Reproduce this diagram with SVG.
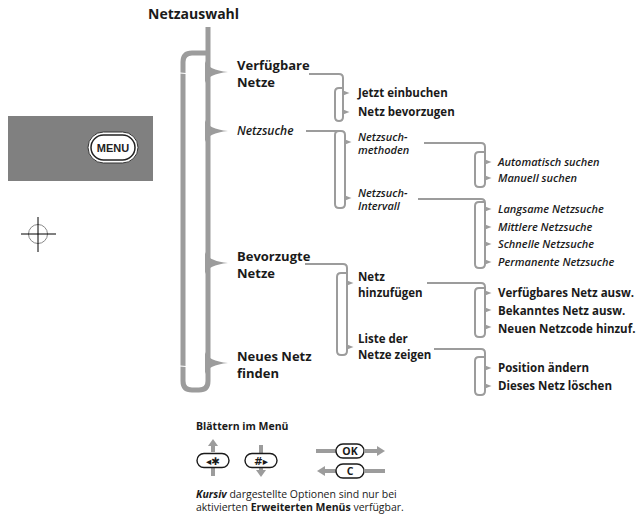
<svg xmlns="http://www.w3.org/2000/svg" width="636" height="520" viewBox="0 0 636 520">
<style>
text{font-family:"Open Sans","Noto Sans","DejaVu Sans",sans-serif;fill:#1a1a1a}
.h{font-size:13px;font-weight:700}
.b{font-size:11.5px;font-weight:700}
.i{font-size:11px;font-style:italic;font-weight:600}
.i2{font-size:12px;font-style:italic;font-weight:600}
.br{fill:none;stroke:#9c9c9c;stroke-width:2}
.tk{fill:#9c9c9c}
.trunk{fill:none;stroke:#9c9c9c;stroke-width:5}
.leg{font-size:10.5px}
.pill{fill:#fff;stroke:#1a1a1a;stroke-width:1.4}
.ga{stroke:#9c9c9c;stroke-width:4;fill:none}
</style>
<defs>
<path id="tick" d="M0,-2.4 L6.5,0 L0,2.4 Z"/>
<path id="tip" d="M205,-11 Q208,-2 228,0 Q208,2 205,11 Z"/>
</defs>

<g id="menu-panel">
<rect x="8" y="116" width="145" height="65" fill="#808080"/>
<rect x="88" y="132" width="50" height="31" rx="15.5" fill="#fff" stroke="#333" stroke-width="1"/>
<rect x="91" y="135" width="44" height="25" rx="12.5" fill="#fff" stroke="#222" stroke-width="1.5"/>
<text x="113" y="152" text-anchor="middle" style="font-family:'Liberation Sans',Arial,sans-serif;font-size:11px;font-weight:700;fill:#222">MENU</text>
</g>

<g id="crosshair">
<circle cx="38" cy="234" r="9.5" fill="none" stroke="#888" stroke-width="1"/>
<line x1="21" y1="234" x2="56" y2="234" stroke="#000" stroke-width="1"/>
<line x1="38" y1="217" x2="38" y2="252" stroke="#000" stroke-width="1"/>
</g>

<g id="connectors">
<path class="trunk" d="M208,27 V381 Q208,390 199,390 H192 Q183,390 183,381 V62 Q183,53 192,53 H208"/>
<line x1="180" y1="73" x2="186" y2="73.5" stroke="#fff" stroke-width="1.2"/>
<line x1="180" y1="366" x2="186" y2="366.5" stroke="#fff" stroke-width="1.2"/>
<g fill="#9c9c9c">
<use href="#tip" y="72"/>
<use href="#tip" y="131"/>
<use href="#tip" y="263"/>
<use href="#tip" y="363"/>
</g>

<path class="br" d="M309,74 H339 Q343,74 343,78 V117 Q343,121 339,121 H339 Q335,121 335,117 V92 Q335,88 339,88 H343"/>
<use href="#tick" class="tk" x="343" y="93"/>
<use href="#tick" class="tk" x="343" y="112"/>

<path class="br" d="M306,131 H341 Q345,131 345,135 V204 Q345,208 341,208 H339 Q335,208 335,204 V135 Q335,131 339,131"/>
<use href="#tick" class="tk" x="345" y="142"/>
<use href="#tick" class="tk" x="345" y="198"/>

<path class="br" d="M424,143 H481 Q485,143 485,147 V183 Q485,187 481,187 H479 Q475,187 475,183 V156 Q475,152 479,152 H485"/>
<use href="#tick" class="tk" x="485" y="162"/>
<use href="#tick" class="tk" x="485" y="178"/>

<path class="br" d="M418,199 H481 Q485,199 485,203 V264 Q485,268 481,268 H479 Q475,268 475,264 V206 Q475,202 479,202 H485"/>
<use href="#tick" class="tk" x="485" y="209"/>
<use href="#tick" class="tk" x="485" y="227"/>
<use href="#tick" class="tk" x="485" y="244"/>
<use href="#tick" class="tk" x="485" y="262"/>

<path class="br" d="M305,264 H343 Q347,264 347,268 V351 Q347,355 343,355 H341 Q337,355 337,351 V277 Q337,273 341,273 H347"/>
<use href="#tick" class="tk" x="347" y="283"/>
<use href="#tick" class="tk" x="347" y="347"/>

<path class="br" d="M427,283 H481 Q485,283 485,287 V333 Q485,337 481,337 H479 Q475,337 475,333 V292 Q475,288 479,288 H485"/>
<use href="#tick" class="tk" x="485" y="293"/>
<use href="#tick" class="tk" x="485" y="310"/>
<use href="#tick" class="tk" x="485" y="327"/>

<path class="br" d="M434,349 H481 Q485,349 485,353 V391 Q485,395 481,395 H479 Q475,395 475,391 V361 Q475,357 479,357 H485"/>
<use href="#tick" class="tk" x="485" y="368"/>
<use href="#tick" class="tk" x="485" y="386"/>
</g>

<g id="n-root"><text x="148" y="19" style="font-size:14px;font-weight:700">Netzauswahl</text></g>
<g id="n-verfuegbare"><text class="h" x="237" y="70">Verfügbare<tspan x="237" dy="17">Netze</tspan></text></g>
<g id="n-einbuchen"><text class="b" x="358" y="97">Jetzt einbuchen</text></g>
<g id="n-bevorzugen"><text class="b" x="358" y="116">Netz bevorzugen</text></g>
<g id="n-netzsuche"><text class="i2" x="237" y="135">Netzsuche</text></g>
<g id="n-methoden"><text class="i" x="358" y="141">Netzsuch-<tspan x="358" dy="12.5">methoden</tspan></text></g>
<g id="n-auto"><text class="i" x="498" y="166">Automatisch suchen</text></g>
<g id="n-manuell"><text class="i" x="498" y="182">Manuell suchen</text></g>
<g id="n-intervall"><text class="i" x="358" y="197">Netzsuch-<tspan x="358" dy="12.5">Intervall</tspan></text></g>
<g id="n-langsam"><text class="i" x="498" y="213">Langsame Netzsuche</text></g>
<g id="n-mittel"><text class="i" x="498" y="231">Mittlere Netzsuche</text></g>
<g id="n-schnell"><text class="i" x="498" y="248">Schnelle Netzsuche</text></g>
<g id="n-perm"><text class="i" x="498" y="266">Permanente Netzsuche</text></g>
<g id="n-bevorzugte"><text class="h" x="237" y="261">Bevorzugte<tspan x="237" dy="17">Netze</tspan></text></g>
<g id="n-hinzu"><text class="b" x="358" y="281">Netz<tspan x="358" dy="16">hinzufügen</tspan></text></g>
<g id="n-verfnetz"><text class="b" x="498" y="297">Verfügbares Netz ausw.</text></g>
<g id="n-bekannt"><text class="b" x="498" y="315">Bekanntes Netz ausw.</text></g>
<g id="n-neucode"><text class="b" x="498" y="333">Neuen Netzcode hinzuf.</text></g>
<g id="n-liste"><text class="b" x="358" y="343">Liste der<tspan x="358" dy="16">Netze zeigen</tspan></text></g>
<g id="n-position"><text class="b" x="498" y="372">Position ändern</text></g>
<g id="n-loeschen"><text class="b" x="498" y="390">Dieses Netz löschen</text></g>
<g id="n-neues"><text class="h" x="237" y="361">Neues Netz<tspan x="237" dy="17">finden</tspan></text></g>

<g id="legend">
<text x="196" y="430" style="font-size:10.5px;font-weight:700">Blättern im Menü</text>
<path class="ga" d="M213,452 V445"/><path d="M208,446 L213,439 L218,446 Z" fill="#9c9c9c"/>
<path class="ga" d="M213,468 V476"/>
<rect class="pill" x="197" y="453.5" width="32" height="14" rx="7"/>
<text x="213" y="464.5" text-anchor="middle" style="font-family:'DejaVu Sans',sans-serif;font-size:10.5px;font-weight:700">◂✱</text>
<path class="ga" d="M261,445 V453"/>
<path class="ga" d="M261,468 V471"/><path d="M256,470 L261,477 L266,470 Z" fill="#9c9c9c"/>
<rect class="pill" x="245" y="453.5" width="32" height="14" rx="7"/>
<text x="261" y="464.5" text-anchor="middle" style="font-family:'DejaVu Sans',sans-serif;font-size:10.5px;font-weight:700">#▸</text>
<path class="ga" d="M316,451 H336"/>
<rect class="pill" x="336" y="444" width="28" height="14" rx="7"/>
<text x="350" y="455" text-anchor="middle" style="font-size:10.5px;font-weight:700">OK</text>
<path class="ga" d="M364,451 H378"/><path d="M377,446 L385,451 L377,456 Z" fill="#9c9c9c"/>
<path class="ga" d="M324,471 H336"/><path d="M325,466 L317,471 L325,476 Z" fill="#9c9c9c"/>
<rect class="pill" x="336" y="464" width="28" height="14" rx="7"/>
<text x="350" y="475" text-anchor="middle" style="font-size:10.5px;font-weight:700">C</text>
<path class="ga" d="M364,471 H385"/>
<text class="leg" x="196" y="498"><tspan style="font-weight:700;font-style:italic">Kursiv</tspan> dargestellte Optionen sind nur bei<tspan x="196" dy="13">aktivierten </tspan><tspan style="font-weight:700">Erweiterten Menüs</tspan> verfügbar.</text>
</g>
</svg>
